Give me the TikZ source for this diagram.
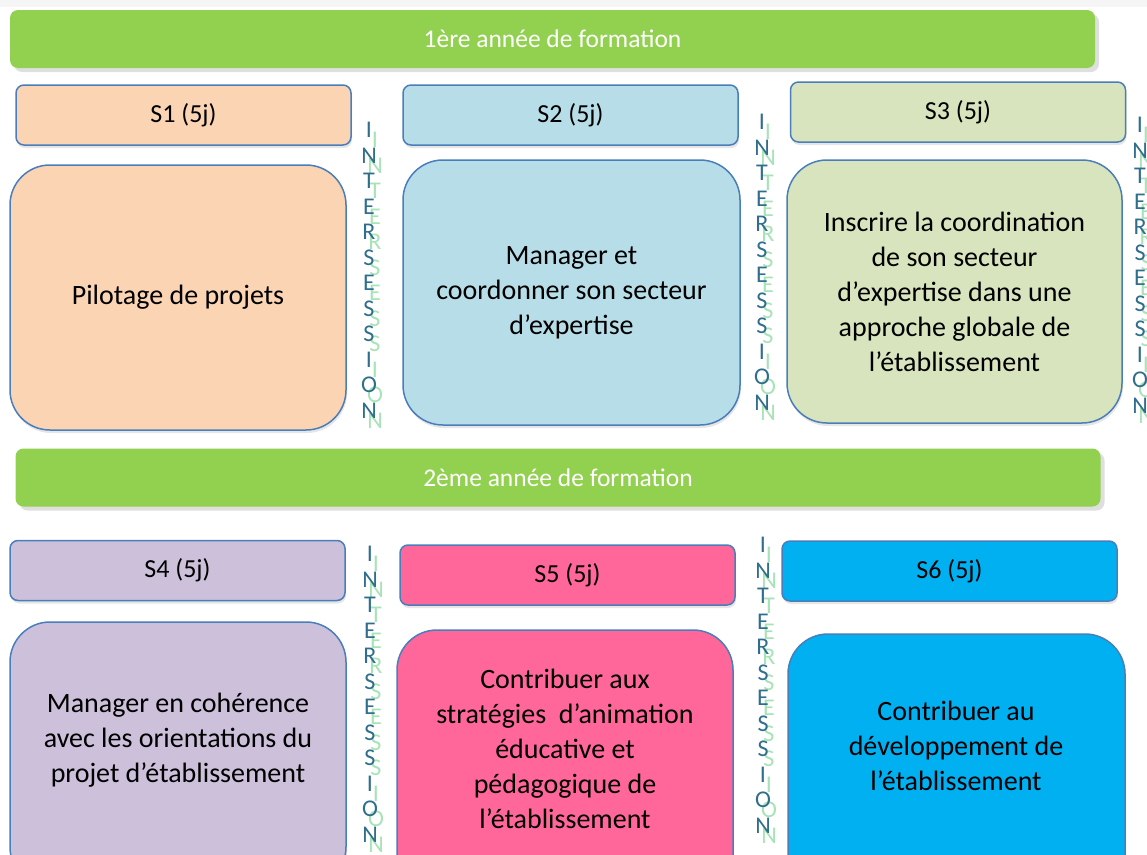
\documentclass[tikz,border=0pt]{standalone}
\usepackage{fontspec}
\setmainfont{Carlito}
\usetikzlibrary{shadows}
\definecolor{bargreen}{HTML}{92D050}
\definecolor{peach}{HTML}{FBD4B4}
\definecolor{lblue}{HTML}{B7DEE8}
\definecolor{olive}{HTML}{D7E4BD}
\definecolor{lav}{HTML}{CCC0DA}
\definecolor{pinkc}{HTML}{FF6699}
\definecolor{cyanc}{HTML}{00B0F0}
\definecolor{bord}{HTML}{4A7EBB}
\definecolor{interdark}{HTML}{2F6E8C}
\definecolor{interlight}{HTML}{A6E3B6}
\tikzset{
  yearbar/.style={fill=bargreen, rounded corners=8pt, minimum width=1085pt, minimum height=58pt,
    text=white, font={\fontsize{25.5}{28}\selectfont}, inner sep=0pt,
    drop shadow={opacity=0.25, shadow xshift=4pt, shadow yshift=-4pt}},
  sbox/.style={draw=bord, line width=1.5pt, rounded corners=8pt, minimum width=335pt, minimum height=60pt,
    font={\fontsize{26}{30}\selectfont}, inner sep=0pt,
    drop shadow={opacity=0.2, shadow xshift=1pt, shadow yshift=-3pt}},
  bigbox/.style={draw=bord, line width=1.5pt, rounded corners=40pt, minimum width=336pt, minimum height=265pt,
    align=center, font={\fontsize{28}{35}\selectfont}, inner sep=0pt,
    drop shadow={opacity=0.2, shadow xshift=1pt, shadow yshift=-3pt}},
  boxtext/.style={align=center, font={\fontsize{28}{35}\selectfont}},
  interd/.style={align=center, text=interdark, font={\fontsize{24}{25.5}\selectfont}, inner sep=0pt, anchor=north},
  interl/.style={align=center, text=interlight, font={\fontsize{24}{25.5}\selectfont}, inner sep=0pt, anchor=north},
}
\newcommand{\intertext}{I\\N\\T\\E\\R\\S\\E\\S\\S\\I\\O\\N}
\begin{document}
\begin{tikzpicture}[x=1pt,y=-1pt]
\useasboundingbox (0,0) rectangle (1147,854);
\clip (0,0) rectangle (1147,854);
\fill[gray!8] (0,0) rectangle (1147,7);

% year bars
\node[yearbar] (bar1) at (552.5,39) {1ère année de formation};
\node[yearbar] (bar2) at (558,477.5) {2ème année de formation};

% session headers
\node[sbox, fill=peach] (s1) at (183.5,115) {S1 (5j)};
\node[sbox, fill=lblue] (s2) at (570.5,115) {S2 (5j)};
\node[sbox, fill=olive] (s3) at (958,112) {S3 (5j)};
\node[sbox, fill=lav] (s4) at (177.5,570.5) {S4 (5j)};
\node[sbox, fill=pinkc] (s5) at (567.5,575) {S5 (5j)};
\node[sbox, fill=cyanc] (s6) at (949.5,571) {S6 (5j)};

% content boxes
\node[bigbox, fill=peach] (b1) at (178,297.5) {Pilotage de projets};
\node[bigbox, fill=lblue, minimum width=337pt] (b2) at (571.5,292.5) {Manager et\\coordonner son secteur\\d’expertise};
\node[bigbox, fill=olive, minimum width=335pt, minimum height=263pt] (b3) at (954.5,291.5) {Inscrire la coordination\\de son secteur\\d’expertise dans une\\approche globale de\\l’établissement};
\node[bigbox, fill=lav] (b4) at (178,754.5) {};
\node[bigbox, fill=pinkc] (b5) at (565,762.5) {};
\node[bigbox, fill=cyanc, minimum width=337pt] (b6) at (956.5,766.5) {};
\node[boxtext] (t4) at (178,740) {Manager en cohérence\\avec les orientations du\\projet d’établissement};
\node[boxtext] (t5) at (565,749) {Contribuer aux\\stratégies~ d’animation\\éducative et\\pédagogique de\\l’établissement};
\node[boxtext] (t6) at (956,746) {Contribuer au\\développement de\\l’établissement};

% intersessions
\node[interl] (i1l) at (375,132) {\intertext};
\node[interd] (i1d) at (369,122) {\intertext};
\node[interl] (i2l) at (768,124) {\intertext};
\node[interd] (i2d) at (762,114) {\intertext};
\node[interl] (i3l) at (1146,127) {\intertext};
\node[interd] (i3d) at (1140,117) {\intertext};
\node[interl] (i4l) at (376,556) {\intertext};
\node[interd] (i4d) at (370,546) {\intertext};
\node[interl] (i5l) at (769,547) {\intertext};
\node[interd] (i5d) at (763,537) {\intertext};
\end{tikzpicture}
\end{document}
